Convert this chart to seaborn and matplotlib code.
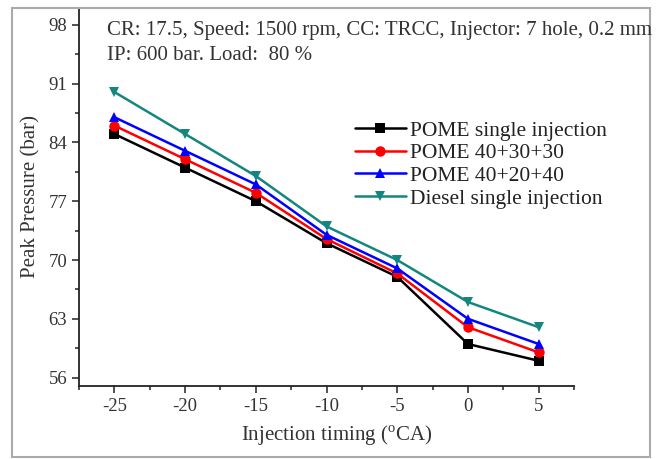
import matplotlib
matplotlib.use("Agg")
import matplotlib.pyplot as plt
import seaborn as sns
import pandas as pd
from matplotlib.patches import Rectangle
from matplotlib.ticker import MultipleLocator

timing = [-25, -20, -15, -10, -5, 0, 5]
pome_single = [85, 81, 77, 72, 68, 60, 58]
pome_403030 = [86, 82, 78, 72.5, 68.4, 62, 59]
pome_402040 = [87, 83, 79, 73, 69, 63, 60]
diesel_single = [90, 85, 80, 74, 70, 65, 62]
series_names = ["POME single injection", "POME 40+30+30", "POME 40+20+40", "Diesel single injection"]

rows = []
for name, vals in zip(series_names, [pome_single, pome_403030, pome_402040, diesel_single]):
    for t, v in zip(timing, vals):
        rows.append({"timing": t, "pressure": v, "series": name})
df = pd.DataFrame(rows)

sns.set_style("ticks")
plt.rcParams["font.family"] = ["Liberation Serif", "DejaVu Serif"]
plt.rcParams["mathtext.fontset"] = "custom"
plt.rcParams["mathtext.rm"] = "Liberation Serif"
plt.rcParams["axes.unicode_minus"] = False

fig = plt.figure(figsize=(6.61, 4.59), dpi=100)
ax = fig.add_axes([79/661, 73/459, 495/661, 378/459])

palette = {"POME single injection": "#000000", "POME 40+30+30": "#ff0000",
           "POME 40+20+40": "#0000ff", "Diesel single injection": "#138680"}
markers = {"POME single injection": "s", "POME 40+30+30": "o",
           "POME 40+20+40": "^", "Diesel single injection": "v"}
sns.lineplot(data=df, x="timing", y="pressure", hue="series", style="series",
             hue_order=series_names, style_order=series_names,
             palette=palette, markers=markers, dashes=False, linewidth=1.8,
             markersize=7.5, markeredgewidth=0, ax=ax)

ax.set_xlim(-27.5, 7.5)
ax.set_ylim(55, 100)
ax.set_xticks(timing)
ax.set_yticks([56, 63, 70, 77, 84, 91, 98])
ax.xaxis.set_minor_locator(MultipleLocator(2.5))
ax.yaxis.set_minor_locator(MultipleLocator(3.5))
ax.tick_params(axis="both", which="major", direction="out", length=5, width=1.2,
               labelsize=13.5, colors="#333333", labelcolor="#333333")
ax.tick_params(axis="both", which="minor", direction="out", length=3, width=1.2, colors="#333333")
for s in ["top", "right"]:
    ax.spines[s].set_visible(False)
for s in ["left", "bottom"]:
    ax.spines[s].set_linewidth(1.3)
    ax.spines[s].set_color("#222222")

ax.set_xlabel("Injection timing ($^{\\rm o}$CA)", fontsize=15, color="#333333", labelpad=10)
ax.xaxis.set_label_coords(0.52, -0.1)
ax.set_ylabel("Peak Pressure (bar)", fontsize=15, color="#333333", labelpad=6)

fig.text(107/661, 1 - 30/459, "CR: 17.5, Speed: 1500 rpm, CC: TRCC, Injector: 7 hole, 0.2 mm",
         fontsize=15, color="#333333", va="center", ha="left")
fig.text(107/661, 1 - 55/459, "IP: 600 bar. Load:  80 %",
         fontsize=15, color="#333333", va="center", ha="left")

leg = ax.legend(loc="upper left", bbox_to_anchor=(346/661, 1 - 112/459), bbox_transform=fig.transFigure,
                frameon=False, fontsize=15.5, handlelength=2.4, handletextpad=0.15,
                labelspacing=0.12, borderaxespad=0)
for t in leg.get_texts():
    t.set_color("#222222")

fig.patches.append(Rectangle((12/661, 2/459), 638/661, 449/459, transform=fig.transFigure,
                             fill=False, edgecolor="#aaaaaa", linewidth=1.5))

fig.savefig("out.png", dpi=100)
